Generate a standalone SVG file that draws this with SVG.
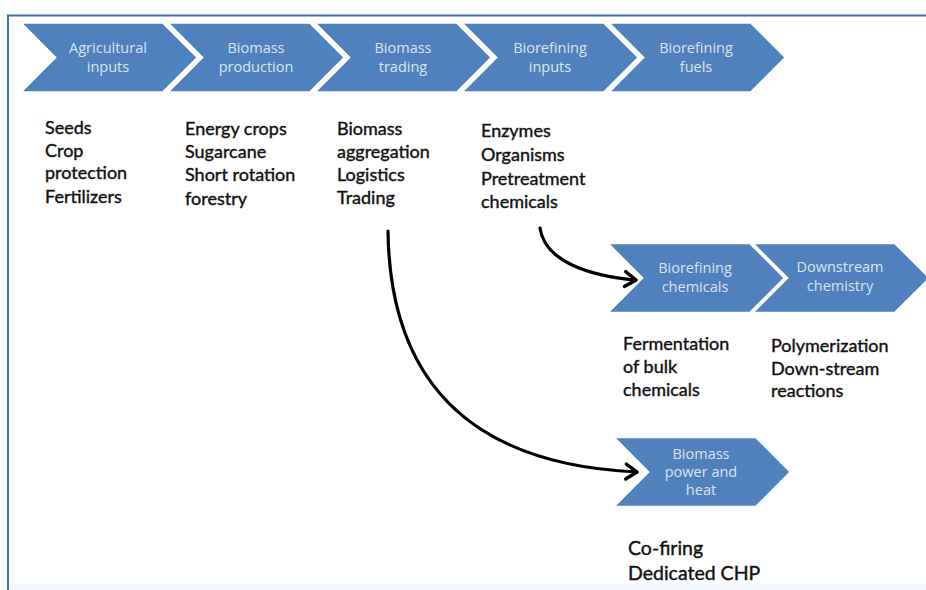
<svg xmlns="http://www.w3.org/2000/svg" width="926" height="590" viewBox="0 0 926 590">
  <defs>
    <style>
      .chev { fill: #4f81bd; stroke: #ffffff; stroke-width: 2.5; stroke-linejoin: miter; }
      .lbl { font-family: "Open Sans", "Liberation Sans", sans-serif; font-size: 14.5px; fill: #dce4ee; text-anchor: middle; }
      .body { font-family: Lato, "Liberation Sans", sans-serif; font-size: 18px; fill: #111111; stroke: #111111; stroke-width: 0.4; }
      .big { font-size: 19.5px; }
      .conn { fill: none; stroke: #000000; stroke-width: 3.2; stroke-linecap: round; }
    </style>
    <marker id="arrow" markerUnits="userSpaceOnUse" markerWidth="20" markerHeight="20" refX="12" refY="8" orient="auto" overflow="visible">
      <path d="M1,0.5 L12,8 L1,15.5" fill="none" stroke="#000000" stroke-width="3.4" stroke-linecap="round" stroke-linejoin="round"/>
    </marker>
    <!-- chevron shape: 143 wide body, 35 deep point, 70 tall -->
    <path id="chevShape" d="M0,0 L143,0 L178,35 L143,70 L0,70 L35,35 Z"/>
  </defs>

  <!-- background and frame -->
  <rect x="0" y="0" width="926" height="590" fill="#ffffff"/>
  <rect x="9" y="584" width="917" height="6" fill="#f0f6fb"/>
  <path d="M8,590 L8,15.5 L926,15.5" fill="none" stroke="#3b6fb4" stroke-width="2"/>

  <!-- main value chain -->
  <g id="agricultural-inputs">
    <use href="#chevShape" class="chev" x="20" y="22.5"/>
    <text class="lbl" x="108" y="53">Agricultural</text>
    <text class="lbl" x="108" y="72">inputs</text>
  </g>
  <g id="biomass-production">
    <use href="#chevShape" class="chev" x="167" y="22.5"/>
    <text class="lbl" x="256" y="53">Biomass</text>
    <text class="lbl" x="256" y="72">production</text>
  </g>
  <g id="biomass-trading">
    <use href="#chevShape" class="chev" x="314" y="22.5"/>
    <text class="lbl" x="403" y="53">Biomass</text>
    <text class="lbl" x="403" y="72">trading</text>
  </g>
  <g id="biorefining-inputs">
    <use href="#chevShape" class="chev" x="461" y="22.5"/>
    <text class="lbl" x="550" y="53">Biorefining</text>
    <text class="lbl" x="550" y="72">inputs</text>
  </g>
  <g id="biorefining-fuels">
    <use href="#chevShape" class="chev" x="608" y="22.5"/>
    <text class="lbl" x="696" y="53">Biorefining</text>
    <text class="lbl" x="696" y="72">fuels</text>
  </g>

  <!-- chemicals branch -->
  <g id="biorefining-chemicals">
    <use href="#chevShape" class="chev" x="607" y="243"/>
    <text class="lbl" x="695" y="273">Biorefining</text>
    <text class="lbl" x="695" y="292">chemicals</text>
  </g>
  <g id="downstream-chemistry">
    <use href="#chevShape" class="chev" x="752" y="243"/>
    <text class="lbl" x="840" y="272">Downstream</text>
    <text class="lbl" x="840" y="291">chemistry</text>
  </g>

  <!-- power branch -->
  <g id="biomass-power-heat">
    <use href="#chevShape" class="chev" x="613" y="437"/>
    <text class="lbl" x="701" y="459">Biomass</text>
    <text class="lbl" x="701" y="477">power and</text>
    <text class="lbl" x="701" y="495">heat</text>
  </g>

  <!-- activity lists -->
  <g id="list-agricultural">
    <text class="body" x="45" y="134">Seeds</text>
    <text class="body" x="45" y="157">Crop</text>
    <text class="body" x="45" y="179">protection</text>
    <text class="body" x="45" y="203">Fertilizers</text>
  </g>
  <g id="list-production">
    <text class="body" x="185" y="135">Energy crops</text>
    <text class="body" x="185" y="158">Sugarcane</text>
    <text class="body" x="185" y="181">Short rotation</text>
    <text class="body" x="185" y="205">forestry</text>
  </g>
  <g id="list-trading">
    <text class="body" x="337" y="135">Biomass</text>
    <text class="body" x="337" y="158">aggregation</text>
    <text class="body" x="337" y="181">Logistics</text>
    <text class="body" x="337" y="204">Trading</text>
  </g>
  <g id="list-refining-inputs">
    <text class="body" x="481" y="137">Enzymes</text>
    <text class="body" x="481" y="161">Organisms</text>
    <text class="body" x="481" y="185">Pretreatment</text>
    <text class="body" x="481" y="208">chemicals</text>
  </g>
  <g id="list-chemicals">
    <text class="body" x="623" y="350">Fermentation</text>
    <text class="body" x="623" y="373">of bulk</text>
    <text class="body" x="623" y="396">chemicals</text>
  </g>
  <g id="list-downstream">
    <text class="body" x="771" y="352">Polymerization</text>
    <text class="body" x="771" y="375">Down-stream</text>
    <text class="body" x="771" y="397">reactions</text>
  </g>
  <g id="list-power">
    <text class="body big" x="628" y="555">Co-firing</text>
    <text class="body big" x="628" y="580">Dedicated CHP</text>
  </g>

  <!-- connectors -->
  <g id="connectors">
    <path class="conn" d="M540,228 C545,262 590,276 636,280" marker-end="url(#arrow)"/>
    <path class="conn" d="M388,231 C390,390 480,465 637,472" marker-end="url(#arrow)"/>
  </g>
</svg>
